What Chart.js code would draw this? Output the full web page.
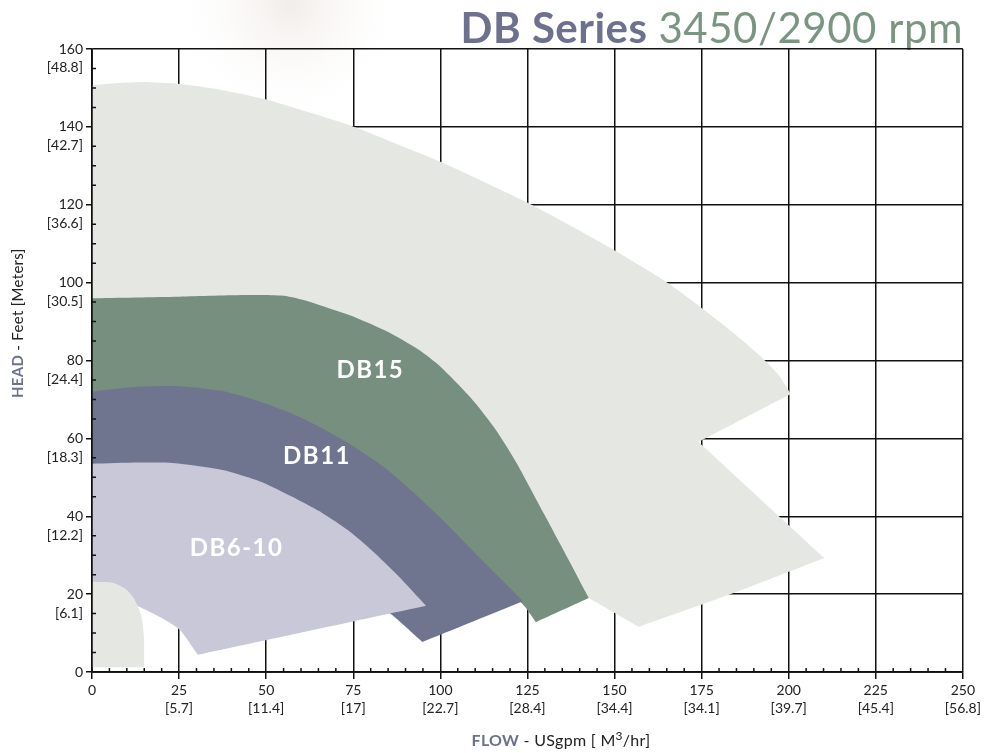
<!DOCTYPE html>
<html>
<head>
<meta charset="utf-8">
<script src="https://cdn.jsdelivr.net/npm/chart.js@4.4.1/dist/chart.umd.min.js"></script>
<style>
  html, body { margin: 0; padding: 0; background: #fff; }
  canvas { display: block; }
</style>
</head>
<body>
<canvas id="chart-db" width="984" height="753"></canvas>
<script>
// axis ticks
const flowTicks = [0, 25, 50, 75, 100, 125, 150, 175, 200, 225, 250];
const flowM3 = ["", "5.7", "11.4", "17", "22.7", "28.4", "34.4", "34.1", "39.7", "45.4", "56.8"];
const headTicks = [0, 20, 40, 60, 80, 100, 120, 140, 160];
const headM = ["", "6.1", "12.2", "18.3", "24.4", "30.5", "36.6", "42.7", "48.8"];

// outline of each pump range, flow (USgpm) / head (ft)
// sharp corners are listed twice so the smoothing keeps them pointed
const allFlow = [0, 13.7, 25.2, 37, 49.8, 62, 75.3, 87, 100.2, 112, 124.6, 137, 149.8, 158, 166.1, 174.7, 184, 191, 197, 200.6, 200.6, 174.1, 174.1, 210.2, 210.2, 181.8, 156.9, 156.9, 142, 142, 125, 100, 0];
const allHead = [150.7, 151.5, 151, 149.5, 147.1, 143.8, 140, 135.8, 131, 126.1, 120.7, 114.8, 108.4, 104, 99.4, 93.7, 87.2, 81.8, 76.4, 71.4, 71.4, 59.1, 59.1, 29.3, 29.3, 19.5, 11.6, 11.6, 19.3, 19.3, 40, 60, 70];

const db15Flow = [0, 25, 45, 55, 62, 68, 75.8, 85.3, 93.9, 99, 104.5, 110, 116, 122, 128.3, 135.5, 142.6, 142.6, 127.4, 127.4, 123.5, 95, 50, 0];
const db15Head = [96, 96.4, 96.8, 96.6, 95.2, 93.4, 91, 87.2, 82.7, 79.2, 74.4, 69.1, 62.1, 53.5, 43, 31, 19, 19, 12.8, 12.8, 17.5, 40, 62, 65];

const db11Flow = [0, 12, 25, 37, 47, 57, 66, 75, 84, 93, 102, 111, 120, 123.7, 123.7, 94.8, 94.8, 85.3, 60, 0];
const db11Head = [72, 73.2, 73.4, 72.2, 69.8, 66.5, 62.6, 58, 52.5, 45.5, 37.8, 29.6, 21.6, 18.2, 18.2, 7.7, 7.7, 15.2, 30, 50];

const db610Flow = [0, 13.7, 23.2, 37.5, 47.2, 51.8, 59, 66.2, 73.5, 80.5, 88, 95.9, 95.9, 30.4, 30.4, 25.2, 19.5, 13.7, 6, 0];
const db610Head = [53.5, 53.8, 53.7, 51.9, 49.3, 47.5, 44.3, 40.8, 36.4, 31.1, 24.6, 17, 17, 4.4, 4.4, 10.8, 14.1, 16.7, 20, 22];

const smallFlow = [0, 6, 9.9, 12.3, 14.2, 14.9, 15, 15, 0];
const smallHead = [23.2, 22.9, 21.1, 18.5, 14.2, 9.1, 1.2, 1.2, 1.2];

// region names
const regionNames = ["DB15", "DB11", "DB6-10"];
const regionFlow = [79.9, 64.6, 41.5];
const regionHead = [77.6, 55.3, 31.7];

const FONT = "Lato, 'Open Sans', sans-serif";
const SLATE = "#6d718f";
const GREEN = "#7a9682";

function toPoints(xs, ys) {
  return xs.map((x, i) => ({ x: x, y: ys[i] }));
}

function shape(label, xs, ys, color) {
  return {
    label: label,
    data: toPoints(xs, ys),
    showLine: true,
    fill: "shape",
    backgroundColor: color,
    borderColor: color,
    borderWidth: 0,
    pointRadius: 0,
    tension: 0.25,
  };
}

const decor = {
  id: "decor",
  beforeDraw(chart) {
    const c = chart.ctx;
    c.save();
    c.fillStyle = "#fff";
    c.fillRect(0, 0, chart.width, chart.height);
    // faint smudge at the top left
    const g = c.createRadialGradient(290, 5, 5, 290, 5, 120);
    g.addColorStop(0, "rgba(220,206,195,0.35)");
    g.addColorStop(1, "rgba(255,255,255,0)");
    c.fillStyle = g;
    c.fillRect(100, 0, 400, 140);
    // title
    c.textBaseline = "alphabetic";
    c.textAlign = "right";
    c.letterSpacing = "0.5px";
    c.font = "42px " + FONT;
    c.fillStyle = GREEN;
    c.fillText("3450/2900 rpm", 963, 43);
    const w = c.measureText("3450/2900 rpm").width;
    c.font = "bold 42px " + FONT;
    c.fillStyle = SLATE;
    c.fillText("DB Series", 963 - w - 11, 43);
    c.restore();
  },
  afterDatasetsDraw(chart) {
    const c = chart.ctx;
    const xs = chart.scales.x;
    const ys = chart.scales.y;
    const a = chart.chartArea;
    c.save();
    c.strokeStyle = "#111";
    c.lineWidth = 1.5;
    c.beginPath();
    c.moveTo(a.left, a.top);
    c.lineTo(a.left, a.bottom);
    c.lineTo(a.right, a.bottom);
    for (let v = 5; v < 250; v += 5) {
      if (v % 25 === 0) continue;
      const px = xs.getPixelForValue(v);
      c.moveTo(px, a.bottom);
      c.lineTo(px, a.bottom - 4);
    }
    for (let v = 5; v < 160; v += 5) {
      if (v % 20 === 0) continue;
      const py = ys.getPixelForValue(v);
      c.moveTo(a.left, py);
      c.lineTo(a.left + 4, py);
    }
    c.stroke();

    // names on the areas
    c.fillStyle = "#fff";
    c.font = "bold 24px " + FONT;
    c.letterSpacing = "1.5px";
    c.textAlign = "center";
    c.textBaseline = "middle";
    regionNames.forEach((n, i) => {
      c.fillText(n, xs.getPixelForValue(regionFlow[i]), ys.getPixelForValue(regionHead[i]));
    });

    // axis titles
    c.letterSpacing = "0.3px";
    c.textAlign = "left";
    c.textBaseline = "middle";
    const parts = [
      ["bold 16px ", SLATE, "FLOW", 0],
      ["16px ", "#222", " - USgpm [ M", 0],
      ["12px ", "#222", "3", -5],
      ["16px ", "#222", "/hr]", 0],
    ];
    let total = 0;
    parts.forEach((p) => {
      c.font = p[0] + FONT;
      total += c.measureText(p[2]).width;
    });
    let x = 561 - total / 2;
    parts.forEach((p) => {
      c.font = p[0] + FONT;
      c.fillStyle = p[1];
      c.fillText(p[2], x, 741 + p[3]);
      x += c.measureText(p[2]).width;
    });

    c.translate(18, 398);
    c.rotate(-Math.PI / 2);
    let t = 0;
    c.font = "bold 15px " + FONT;
    c.fillStyle = SLATE;
    c.fillText("HEAD", t, 0);
    t += c.measureText("HEAD").width;
    c.font = "15px " + FONT;
    c.fillStyle = "#222";
    c.fillText(" - Feet [Meters]", t, 0);
    c.restore();
  },
};

const ctx = document.getElementById("chart-db");
const chart = new Chart(ctx, {
  type: "scatter",
  data: {
    datasets: [
      shape("small", smallFlow, smallHead, "#e5e8e2"),
      shape("DB6-10", db610Flow, db610Head, "#c9c8d8"),
      shape("DB11", db11Flow, db11Head, "#70758f"),
      shape("DB15", db15Flow, db15Head, "#768f7e"),
      shape("all", allFlow, allHead, "#e5e8e2"),
    ],
  },
  plugins: [decor],
  options: {
    responsive: false,
    animation: false,
    layout: { padding: { top: 49, right: 19, left: 0, bottom: 0 } },
    plugins: {
      legend: { display: false },
      tooltip: { enabled: false },
    },
    scales: {
      x: {
        type: "linear",
        min: 0,
        max: 250,
        afterFit(scale) {
          scale.height = 81;
        },
        afterBuildTicks(scale) {
          scale.ticks = flowTicks.map((v) => ({ value: v }));
        },
        ticks: {
          autoSkip: false,
          maxRotation: 0,
          padding: 3,
          color: "#222",
          font: { family: FONT, size: 14, lineHeight: 1.25 },
          callback(value) {
            const i = flowTicks.indexOf(value);
            if (i < 0) return "";
            return flowM3[i] ? [String(value), "[" + flowM3[i] + "]"] : String(value);
          },
        },
        grid: {
          color: "#111",
          lineWidth: 1.5,
          tickLength: 7,
          tickColor: "#111",
          tickWidth: 1.5,
        },
        border: { display: true, color: "#111", width: 1.5 },
      },
      y: {
        type: "linear",
        min: 0,
        max: 160,
        afterFit(scale) {
          scale.width = 92;
        },
        afterBuildTicks(scale) {
          scale.ticks = headTicks.map((v) => ({ value: v }));
        },
        ticks: {
          autoSkip: false,
          padding: 3,
          labelOffset: 9.5,
          color: "#222",
          font: { family: FONT, size: 14, lineHeight: 1.35 },
          callback(value) {
            const i = headTicks.indexOf(value);
            if (i < 0) return "";
            return [String(value), headM[i] ? "[" + headM[i] + "]" : ""];
          },
        },
        grid: {
          color: "#111",
          lineWidth: 1.5,
          tickLength: 6,
          tickColor: "#111",
          tickWidth: 1.5,
        },
        border: { display: true, color: "#111", width: 1.5 },
      },
    },
  },
});
</script>
</body>
</html>
